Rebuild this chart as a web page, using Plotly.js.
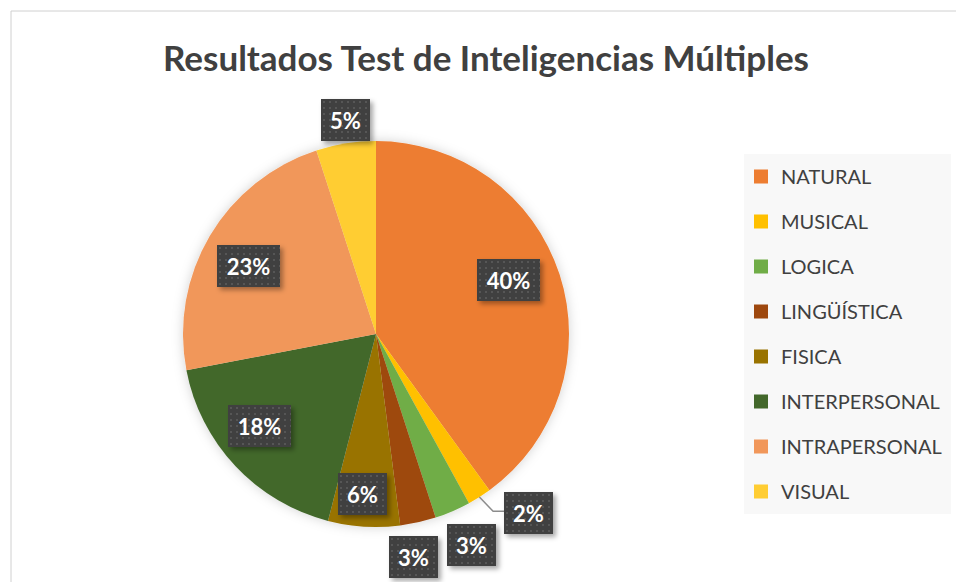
<!DOCTYPE html>
<html>
<head>
<meta charset="utf-8">
<script src="https://cdn.plot.ly/plotly-3.0.1.min.js"></script>
<style>
  html, body { margin: 0; padding: 0; background: #ffffff; }
  #chart { width: 956px; height: 582px; }
</style>
</head>
<body>
<div id="chart"></div>
<script>
// ---- data ----
const categories = ["NATURAL", "MUSICAL", "LOGICA", "LINGÜÍSTICA", "FISICA", "INTERPERSONAL", "INTRAPERSONAL", "VISUAL"];
const percentages = [40, 2, 3, 3, 6, 18, 23, 5];
const sliceColors = ["#ED7D31", "#FFC000", "#70AD47", "#9E480E", "#997300", "#43682B", "#F1975A", "#FFCD33"];
const chartTitle = "Resultados Test de Inteligencias Múltiples";

// ---- layout settings (label placement relative to pie) ----
const labelRadius = [0.74, 1.22, 1.20, 1.17, 0.83, 0.77, 0.75, 1.12];
const labelAngleNudge = [-4, -8, -1, 3, 1.4, 5, -2.6, 1];
const showLeader = [false, true, false, false, false, false, false, false];

const W = 956, H = 582;
const pieCx = 376, pieCy = 334, pieR = 193;
const px2x = p => p / W;
const px2y = p => 1 - p / H;

const total = percentages.reduce((a, b) => a + b, 0);
let cum = 0;
const midAngles = percentages.map(v => { const m = (cum + v / 2) / total * 360; cum += v; return m; });

const annotations = [];
const shapes = [];

// chart frame
shapes.push({type: 'rect', xref: 'paper', yref: 'paper', x0: px2x(11), x1: 1.2, y0: -0.2, y1: px2y(11),
  line: {color: '#d0d0d0', width: 1}, fillcolor: 'rgba(0,0,0,0)', layer: 'below'});
// legend background
shapes.push({type: 'rect', xref: 'paper', yref: 'paper', x0: px2x(744), x1: px2x(951), y0: px2y(514), y1: px2y(154),
  line: {width: 0}, fillcolor: '#f8f8f8', layer: 'below'});

percentages.forEach((v, i) => {
  const th = (midAngles[i] + labelAngleNudge[i]) * Math.PI / 180;
  const lx = pieCx + labelRadius[i] * pieR * Math.sin(th);
  const ly = pieCy - labelRadius[i] * pieR * Math.cos(th);
  const txt = v + '%';
  const bw = txt.length >= 3 ? 63 : 49;
  annotations.push({
    xref: 'paper', yref: 'paper', x: px2x(lx), y: px2y(ly), xanchor: 'center', yanchor: 'middle',
    text: '<b>' + txt + '</b>', showarrow: false,
    font: {family: 'Lato, sans-serif', size: 22, color: '#ffffff'},
    bgcolor: '#404040', width: bw, height: 42, borderpad: 0, borderwidth: 0
  });
  if (showLeader[i]) {
    const th0 = midAngles[i] * Math.PI / 180;
    const sx = pieCx + pieR * Math.sin(th0);
    const sy = pieCy - pieR * Math.cos(th0);
    const left = lx - bw / 2;
    shapes.push({type: 'path', xref: 'paper', yref: 'paper',
      path: `M ${px2x(sx)} ${px2y(sy)} L ${px2x(left - 11)} ${px2y(ly - 2)} L ${px2x(left)} ${px2y(ly - 2)}`,
      line: {color: '#8c8c8c', width: 1.5}});
  }
});

// title
annotations.push({xref: 'paper', yref: 'paper', x: px2x(486), y: px2y(57), xanchor: 'center', yanchor: 'middle',
  text: '<b>' + chartTitle + '</b>', showarrow: false,
  font: {family: 'Lato, sans-serif', size: 35, color: '#404040'}});

const traces = [{
  type: 'pie', labels: categories, values: percentages, sort: false, direction: 'clockwise', rotation: 0,
  marker: {colors: sliceColors, line: {width: 0}}, textinfo: 'none', hoverinfo: 'label+percent',
  showlegend: false,
  domain: {x: [px2x(pieCx - pieR), px2x(pieCx + pieR)], y: [px2y(pieCy + pieR), px2y(pieCy - pieR)]}
}];
categories.forEach((c, i) => {
  traces.push({type: 'scatter', mode: 'markers', x: [null], y: [null], name: c, legendgroup: 'g' + i,
    marker: {symbol: 'square', size: 14, color: sliceColors[i], line: {width: 0}}, showlegend: true,
    hoverinfo: 'skip'});
});

const layout = {
  width: W, height: H, margin: {l: 0, r: 0, t: 0, b: 0},
  paper_bgcolor: '#ffffff', plot_bgcolor: 'rgba(0,0,0,0)',
  xaxis: {visible: false}, yaxis: {visible: false},
  showlegend: true,
  legend: {x: px2x(741), y: px2y(157), xanchor: 'left', yanchor: 'top', bgcolor: 'rgba(0,0,0,0)',
    traceorder: 'grouped', tracegroupgap: 16, itemclick: false,
    font: {family: 'Lato, sans-serif', size: 20, color: '#404040'}},
  annotations: annotations, shapes: shapes
};

Plotly.newPlot('chart', traces, layout, {displayModeBar: false, staticPlot: true}).then(() => {
  const svg = document.querySelector('#chart .main-svg');
  const ns = 'http://www.w3.org/2000/svg';
  let defs = svg.querySelector('defs');
  if (!defs) { defs = document.createElementNS(ns, 'defs'); svg.insertBefore(defs, svg.firstChild); }
  defs.insertAdjacentHTML('beforeend',
    '<pattern id="dots" patternUnits="userSpaceOnUse" width="6" height="6">' +
    '<rect width="6" height="6" fill="#404040"/><rect x="2" y="2" width="2" height="2" fill="#575757"/></pattern>' +
    '<filter id="boxshadow" x="-30%" y="-30%" width="160%" height="160%">' +
    '<feDropShadow dx="3" dy="3" stdDeviation="2.5" flood-color="#000" flood-opacity="0.35"/></filter>' +
    '<filter id="pieglow" x="-10%" y="-10%" width="120%" height="120%">' +
    '<feDropShadow dx="0" dy="0" stdDeviation="6" flood-color="#000" flood-opacity="0.18"/></filter>');
  document.querySelectorAll('#chart .annotation').forEach((g, i) => {
    const bg = g.querySelector('rect.bg');
    if (bg && i < percentages.length) {
      bg.style.fill = 'url(#dots)';
      bg.style.filter = 'url(#boxshadow)';
    }
  });
  const pie = document.querySelector('#chart .pielayer .trace');
  if (pie) pie.style.filter = 'url(#pieglow)';
});
</script>
</body>
</html>
